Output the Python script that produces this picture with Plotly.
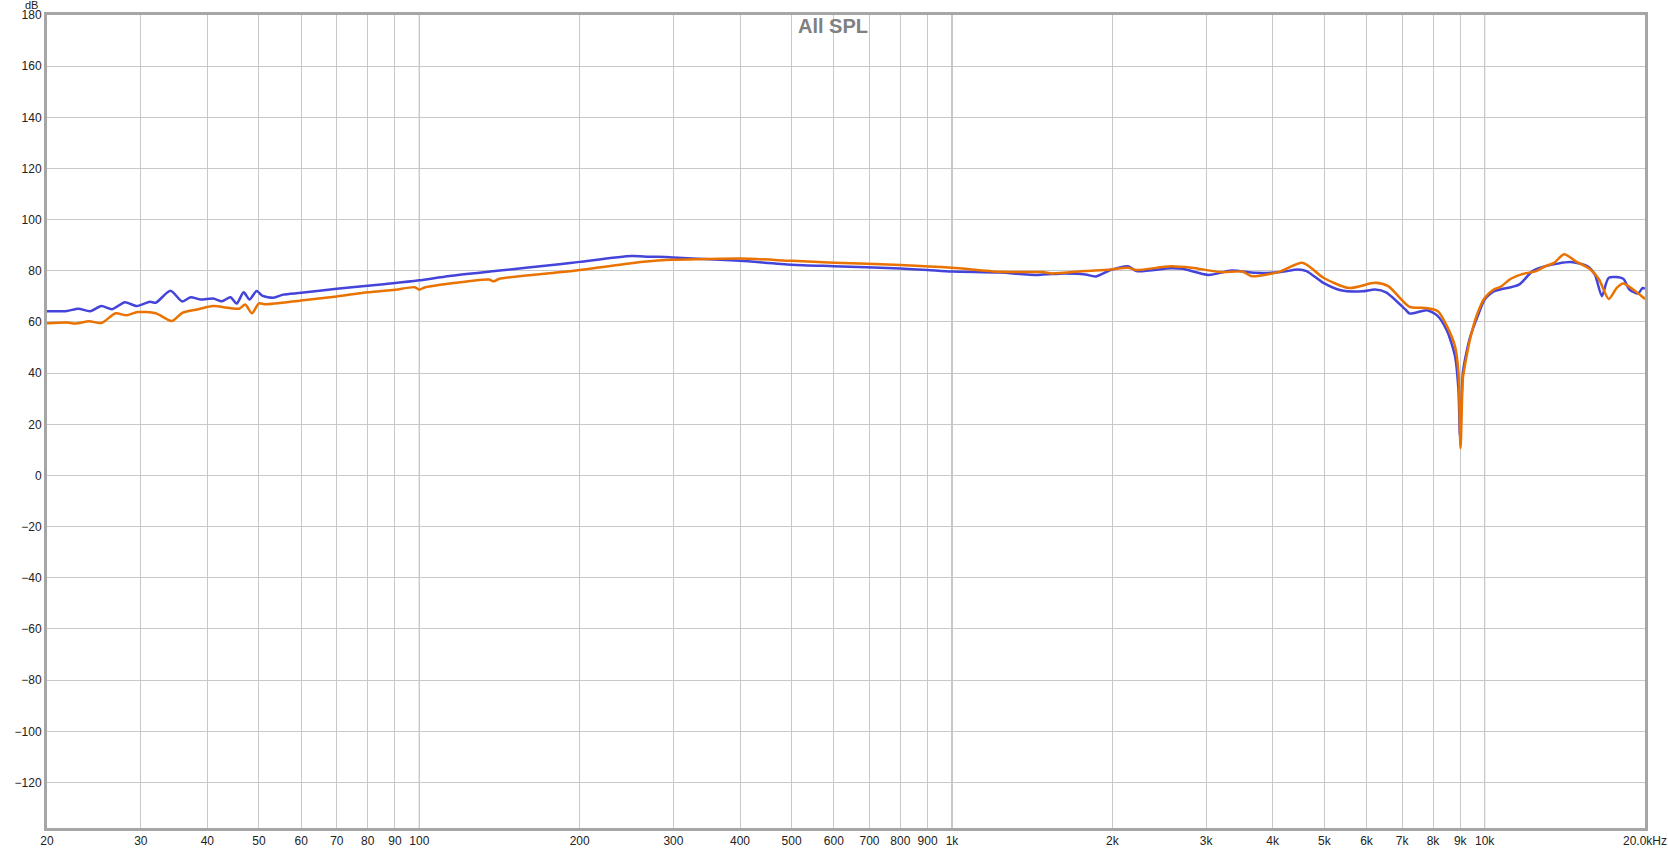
import plotly.graph_objects as go

# frequency response (Hz, dB)
blue_freq = [20, 21.8, 22.9, 24.1, 25.3, 26.5, 28.0, 29.5, 31.2, 32.0, 34.1, 35.9, 37.2, 38.8,
             41.0, 42.6, 44.2, 45.4, 46.8, 48.0, 49.5, 50.8, 53.2, 55.5, 60, 70, 80, 90, 100,
             114, 140, 185, 200, 250, 270, 290, 300, 350, 400, 500, 600, 800, 900, 1000,
             1230, 1450, 1620, 1780, 1860, 1985, 2140, 2220, 2570, 2710, 3030, 3350, 3710,
             4140, 4460, 4630, 4980, 5370, 5890, 6230, 6530, 7090, 7230, 7800, 8150, 8500,
             8800, 8930, 8990, 9100, 9200, 9400, 9700, 10000, 10400, 10700, 11600, 12300,
             13000, 14500, 15600, 16100, 16600, 17100, 18200, 18700, 19400, 19800, 20000]
blue_db = [64.2, 64.3, 65.2, 64.2, 66.2, 65.0, 67.7, 66.2, 67.9, 67.5, 72.2, 68.0, 69.7, 68.8,
           69.2, 68.1, 69.7, 67.2, 71.6, 68.8, 72.1, 70.2, 69.5, 70.7, 71.4, 73.0, 74.2, 75.2, 76.3,
           78.0, 80.0, 82.7, 83.5, 85.8, 85.5, 85.4, 85.2, 84.5, 83.9, 82.4, 81.8, 80.9, 80.3, 79.7,
           79.3, 78.4, 79.0, 78.6, 77.8, 80.3, 81.8, 79.9, 81.0, 80.8, 78.4, 80.1, 79.2,
           79.5, 80.5, 79.9, 75.3, 72.4, 72.0, 72.7, 71.6, 65.0, 63.3, 64.6, 62.5, 56.5,
           46.5, 33.4, 15.0, 40.0, 46.0, 54.4, 62.2, 68.8, 72.0, 72.7, 74.6, 79.9,
           81.8, 83.4, 81.8, 78.6, 70.1, 77.3, 76.9, 72.7, 71.1, 73.3, 73.0]

orange_freq = [20, 21.8, 22.6, 24.0, 25.3, 26.9, 28.2, 29.6, 32.0, 34.3, 35.9, 38.5, 41.0,
               45.9, 47.1, 48.5, 50.0, 51.4, 60, 70, 80, 90, 98, 100, 102, 114, 135, 138, 141,
               185, 200, 250, 290, 300, 400, 500, 600, 800, 1000, 1230, 1480, 1540, 1780,
               1985, 2140, 2220, 2570, 2820, 3200, 3510, 3650, 4100, 4560, 4980, 5560, 6230,
               6590, 7230, 7730, 8170, 8500, 8800, 8930, 9010, 9100, 9150, 9400, 9700, 10000,
               10400, 10700, 11200, 11800, 12500, 13000, 13500, 14100, 14800, 15800, 16400,
               17100, 17700, 18200, 19000, 20000]
orange_db = [59.5, 59.8, 59.4, 60.3, 59.6, 63.4, 62.6, 63.9, 63.4, 60.4, 63.6, 65.0, 66.2,
             65.2, 66.8, 63.4, 67.3, 66.9, 68.4, 70.0, 71.6, 72.6, 73.6, 72.6, 73.4, 75.0, 76.6, 75.9, 76.8,
             79.5, 80.3, 83.0, 84.2, 84.3, 84.8, 83.9, 83.2, 82.3, 81.2, 79.6, 79.5, 79.0, 79.9,
             80.5, 81.2, 80.3, 81.8, 81.2, 79.5, 79.7, 77.9, 79.5, 83.1, 77.3, 73.3, 75.3,
             74.0, 65.9, 65.5, 64.2, 58.3, 50.4, 40.0, 10.6, 38.0, 41.3, 53.8, 63.5, 69.4,
             72.7, 73.7, 76.9, 78.8, 79.9, 81.8, 83.1, 86.5, 83.8, 80.5, 76.6,
             69.0, 73.3, 75.0, 72.7, 69.0]

x_ticks = [20, 30, 40, 50, 60, 70, 80, 90, 100, 200, 300, 400, 500, 600, 700, 800, 900,
           1000, 2000, 3000, 4000, 5000, 6000, 7000, 8000, 9000, 10000, 20000]
x_labels = ["20", "30", "40", "50", "60", "70", "80", "90", "100", "200", "300", "400", "500",
            "600", "700", "800", "900", "1k", "2k", "3k", "4k", "5k", "6k", "7k", "8k", "9k",
            "10k", "20.0kHz"]
y_ticks = list(range(-120, 181, 20))

fig = go.Figure()
fig.add_trace(go.Scatter(x=blue_freq, y=blue_db, mode="lines",
                         line=dict(color="rgb(68,68,218)", width=2.5, shape="spline", smoothing=0.7),
                         showlegend=False))
fig.add_trace(go.Scatter(x=orange_freq, y=orange_db, mode="lines",
                         line=dict(color="rgb(234,114,0)", width=2.5, shape="spline", smoothing=0.7),
                         showlegend=False))

# darker decade lines
for f in [100, 1000, 10000]:
    fig.add_shape(type="line", xref="x", yref="paper", x0=f, x1=f, y0=0, y1=1,
                  line=dict(color="#8a8a8a", width=1), layer="below")

fig.add_annotation(text="<b>All SPL</b>", xref="paper", yref="paper", x=0.492, y=0.987,
                   xanchor="center", yanchor="middle", showarrow=False,
                   font=dict(family="Liberation Sans", size=20, color="#808080"))
fig.add_annotation(text="dB", xref="paper", yref="paper", x=-0.0098, y=1.0122,
                   xanchor="center", yanchor="middle", showarrow=False,
                   font=dict(family="Liberation Sans", size=11, color="#222"))

fig.update_layout(
    width=1668, height=849,
    margin=dict(l=47, r=23, t=15, b=21),
    paper_bgcolor="white", plot_bgcolor="white",
    font=dict(family="Liberation Sans", size=12, color="#222"),
    xaxis=dict(type="log", range=[1.30103, 4.30103], tickvals=x_ticks, ticktext=x_labels,
               gridcolor="#c8c8c8", gridwidth=1, showline=True, linecolor="#a6a6a6",
               linewidth=3, mirror=True, zeroline=False, ticks="", tickangle=0,
               automargin=False),
    yaxis=dict(range=[-137.8, 180], tickvals=y_ticks, gridcolor="#c8c8c8", gridwidth=1,
               showline=True, linecolor="#a6a6a6", linewidth=3, mirror=True,
               zeroline=False, ticks="", automargin=False),
)

fig.write_html("out.html", config={"displayModeBar": False},
               post_script="document.body.style.margin='0';")
